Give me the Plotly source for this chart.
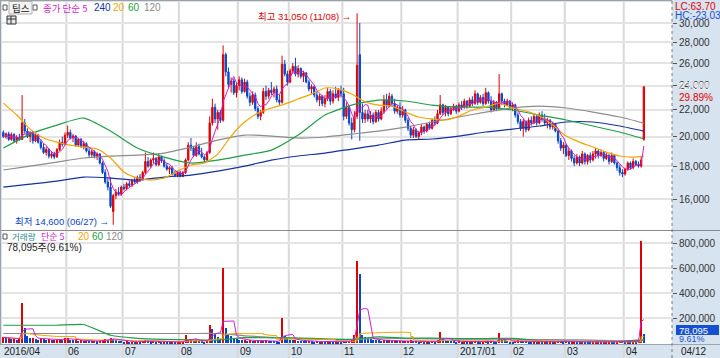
import math
import pandas as pd
import plotly.graph_objects as go

STOCK_NAME = "팁스"

OPEN = [20300,20000,20200,19800,20150,19700,19950,19800,21000,20400,
        20000,20250,19700,20100,19600,19250,18900,19100,18650,18800,
        18600,19100,19600,19450,20100,20300,19900,20050,19400,19800,
        19300,19500,19000,18750,18950,18650,18800,18200,17600,17000,
        16700,15300,16200,16400,16300,16700,16600,16900,16800,17100,
        17000,17300,17150,17600,18300,18000,18400,18500,18100,18600,
        18350,18000,17800,17900,17500,17400,17600,17350,17600,18400,
        19400,19200,18700,19300,18800,18600,18400,18900,21000,22200,
        21300,21800,21200,26800,25200,24100,24400,23400,24000,24500,
        23500,24300,23100,22600,23200,22100,21500,21800,23500,23100,
        23600,23400,23700,22800,22600,25900,25000,24300,25300,25700,
        25000,25500,24800,25100,24300,23700,23900,23200,22800,23100,
        22500,22900,23500,22700,23300,23000,23600,23300,21500,22200,
        21000,20500,21500,26800,21800,21300,21700,21300,21600,21100,
        21800,21300,21900,22800,22300,23100,22500,21900,22200,21600,
        22000,21200,20600,20100,20500,20000,20300,20700,20400,20900,
        20600,21200,21000,21700,22400,21800,22200,21700,22100,22300,
        21900,22400,22200,22700,22300,22800,22500,23300,22600,23000,
        22500,23400,22700,22000,22600,22100,23300,22700,22400,22700,
        22200,22400,21600,21100,20600,21100,20500,21200,21000,21500,
        21000,21600,21300,21000,21200,20700,20900,20400,19700,19200,
        19400,18700,19000,18500,18200,18600,18200,18800,18300,18700,
        18400,18800,19000,18700,18900,18500,18700,18300,18700,18200,
        17900,17600,17500,17800,18200,17900,18300,18100,18000,19800]

HIGH = [20450,20300,20350,20300,20250,20100,20200,23200,21300,20600,
        20400,20400,20200,20200,19800,19500,19300,19200,19000,18950,
        19200,19800,20000,20300,20800,20500,20200,20100,19900,19900,
        19700,19600,19200,19100,19050,18900,18850,18300,17800,17300,
        17300,16300,16600,16700,16800,16900,17000,17100,17200,17300,
        17400,17500,17700,18900,18600,18500,18900,18600,18800,18700,
        18500,18200,18000,18000,17700,17700,17700,17700,18500,19600,
        19900,19300,19600,19500,19200,18700,19000,21500,22900,22500,
        22000,22000,27700,27000,25600,24700,24600,24200,24800,24700,
        24600,24500,23400,23500,23400,22300,22000,23800,24000,23800,
        24300,23900,24000,23200,26700,26300,25300,25500,26000,26500,
        25800,25600,25300,25200,24500,24100,24000,23500,23300,23200,
        23200,23800,23700,23600,23900,23800,24000,23800,22600,22400,
        21400,21900,31050,30000,22500,22000,22000,21900,21800,22000,
        22000,22200,23200,23300,23400,23300,22900,22400,22600,22300,
        22100,21400,20800,20700,20600,20400,20900,20800,21000,21100,
        21300,21500,22000,23200,22500,22400,22300,22300,22500,22400,
        22600,22700,22900,22800,23000,23100,23600,23400,23200,23300,
        23800,23500,23100,22800,22700,25000,23400,22900,22900,22800,
        22600,22500,21800,21300,21300,21200,21400,21500,21700,21600,
        21800,21900,21700,21400,21300,21100,21000,20500,19900,19600,
        19500,19200,19100,18700,18800,18700,19000,18900,18800,18900,
        19000,19200,19100,19100,19000,18900,18800,18900,18800,18300,
        18100,17800,17900,18300,18300,18500,18400,18300,18600,23900]

LOW = [19900,19850,19700,19700,19600,19500,19700,19750,20200,19900,
       19600,19500,19600,19500,19100,18800,18700,18500,18500,18450,
       18550,19000,19300,19400,19900,19800,19600,19300,19300,19200,
       19100,18900,18600,18600,18500,18400,18100,17500,16900,16500,
       15500,14600,16000,16200,16200,16500,16500,16700,16700,16900,
       16900,17000,17100,17500,17900,17900,18200,18000,18000,18200,
       17900,17700,17500,17400,17300,17300,17300,17300,17500,18300,
       19000,18600,18600,18700,18500,18200,18300,18800,20800,21000,
       20500,21000,21100,24800,23800,23400,23200,23000,23600,23300,
       23400,22900,22300,22400,21900,21300,21200,21700,22800,22900,
       23200,23000,22600,22400,22500,24800,24000,24200,25000,24800,
       24700,24600,24300,24200,23500,23300,23000,22600,22300,22300,
       22200,22700,22400,22500,22900,22700,23000,21200,21300,20800,
       19800,20300,21300,19700,21000,21000,21100,21000,20900,21000,
       21100,21200,21700,22100,22200,22300,21700,21700,21400,21400,
       21000,20400,19900,19900,19900,19800,20100,20200,20300,20500,
       20500,20800,20900,21600,21600,21500,21500,21600,21900,21700,
       21800,22000,22100,22100,22200,22300,22400,22400,22500,22300,
       22400,22500,21800,21900,21900,22000,22400,22200,22300,22000,
       21900,21400,20900,20400,20000,20300,20400,20800,20900,20800,
       20900,21100,20800,20600,20500,20500,20300,19500,19000,18800,
       18600,18400,18300,18000,18100,18000,18100,18100,18100,18200,
       18300,18500,18500,18600,18300,18400,18100,18200,18100,17700,
       17400,17300,17400,17700,17800,17800,18000,17900,17900,19700]

CLOSE = [20000,20200,19800,20150,19700,19950,19800,21000,20400,20000,
         20250,19700,20100,19600,19250,18900,19100,18650,18800,18600,
         19100,19600,19450,20100,20300,19900,20050,19400,19800,19300,
         19500,19000,18750,18950,18650,18800,18200,17600,17000,16700,
         15600,16200,16400,16300,16700,16600,16900,16800,17100,17000,
         17300,17150,17600,18300,18000,18400,18500,18100,18600,18350,
         18000,17800,17900,17500,17400,17600,17350,17600,18400,19400,
         19200,18700,19300,18800,18600,18400,18900,21000,22200,21300,
         21800,21200,26800,25200,24100,24400,23400,24000,24500,23500,
         24300,23100,22600,23200,22100,21500,21800,23500,23100,23600,
         23400,23700,22800,22600,25900,25000,24300,25300,25700,25000,
         25500,24800,25100,24300,23700,23900,23200,22800,23100,22500,
         22900,23500,22700,23300,23000,23600,23300,21500,22200,21000,
         20500,21500,25800,21800,21300,21700,21300,21600,21100,21800,
         21300,21900,22800,22300,23100,22500,21900,22200,21600,22000,
         21200,20600,20100,20500,20000,20300,20700,20400,20900,20600,
         21200,21000,21700,22400,21800,22200,21700,22100,22300,21900,
         22400,22200,22700,22300,22800,22500,23300,22600,23000,22500,
         23400,22700,22000,22600,22100,23300,22700,22400,22700,22200,
         22400,21600,21100,20600,21100,20500,21200,21000,21500,21000,
         21600,21300,21000,21200,20700,20900,20400,19700,19200,19400,
         18700,19000,18500,18200,18600,18200,18800,18300,18700,18400,
         18800,19000,18700,18900,18500,18700,18300,18700,18200,17900,
         17600,17500,17800,18200,17900,18300,18100,18000,18400,23900]

VOLUME = [48000,40000,45000,32000,36000,30000,42000,320000,120000,56000,
          42000,45000,36000,30000,40000,34000,28000,32000,24000,26000,
          30000,38000,26000,40000,44000,30000,26000,28000,20000,24000,
          18000,22000,20000,16000,18000,15000,22000,28000,34000,30000,
          42000,38000,24000,18000,16000,14000,15000,12000,14000,10000,
          13000,11000,16000,30000,18000,15000,20000,14000,16000,12000,
          14000,11000,10000,12000,9000,10000,12000,14000,64000,30000,
          36000,22000,24000,18000,16000,14000,20000,144000,112000,80000,
          48000,36000,600000,120000,72000,56000,40000,34000,30000,26000,
          28000,22000,24000,20000,22000,18000,20000,16000,30000,20000,
          18000,16000,15000,14000,200000,56000,40000,30000,26000,28000,
          22000,20000,18000,16000,18000,15000,14000,16000,12000,14000,
          12000,15000,13000,12000,14000,12000,11000,20000,16000,18000,
          24000,70000,656000,552000,64000,48000,40000,32000,28000,26000,
          24000,22000,30000,24000,26000,20000,22000,18000,20000,16000,
          18000,22000,24000,18000,16000,14000,16000,12000,14000,12000,
          16000,14000,24000,88000,36000,26000,20000,18000,16000,14000,
          16000,12000,15000,12000,14000,11000,18000,14000,12000,13000,
          20000,15000,18000,14000,12000,80000,30000,24000,18000,14000,
          12000,20000,24000,22000,18000,16000,14000,12000,14000,10000,
          12000,11000,13000,10000,12000,9000,11000,18000,22000,14000,
          16000,12000,14000,15000,12000,10000,13000,11000,10000,9000,
          12000,14000,10000,11000,9000,10000,12000,11000,10000,14000,
          18000,16000,12000,14000,10000,12000,11000,30000,812600,78095]

MONTH_LABELS = ["2016/04", "06", "07", "08", "09", "10", "11", "12",
                "2017/01", "02", "03", "04"]
MONTH_START = [0, 24, 45, 66, 88, 107, 127, 149, 170, 190, 210, 232]
LAST_DATE = "04/12"
HIGH_DATE = "11/08"
LOW_DATE = "06/27"

PRICE_TICKS = [16000, 18000, 20000, 22000, 24000, 26000, 28000, 30000]
VOLUME_TICKS = [200000, 400000, 600000, 800000]

# moving averages (the window reaches back before the shown period)
MA20_IDX = list(range(0, 240, 5)) + [239]
MA20 = [22540, 21600, 20540, 19900, 19610, 19400, 19270, 19130, 18530, 17620,
        17250, 17120, 17250, 17680, 18070, 18200, 18790, 20040, 21070, 21750,
        22150, 22460, 22870, 23280, 23790, 23700, 23280, 22630, 22380, 22300,
        21830, 21450, 21300, 21220, 21520, 21990, 22220, 22540, 22150, 21910,
        21520, 20840, 20040, 19610, 19270, 18920, 18660, 18590, 18660]
MA_IDX = list(range(0, 240, 10)) + [239]
MA60 = [19200, 20180, 20840, 21370, 20400, 19200, 18590, 18200, 18390, 18720,
        19060, 20110, 21600, 22380, 22790, 22710, 22380, 22220, 22220, 21990,
        21600, 21220, 20770, 20330, 19830]
MA120 = [17750, 18000, 18260, 18530, 18660, 18720, 18860, 19270, 19750, 20110,
         20040, 19900, 19970, 20180, 20400, 20690, 21070, 21450, 21830, 22150,
         22300, 22150, 21830, 21450, 20990]
MA240 = [16700, 16880, 17060, 17310, 17250, 17120, 17310, 17430, 17680, 18000,
         18390, 18660, 18860, 19130, 19400, 19750, 19830, 20040, 20330, 20540,
         20770, 21070, 21070, 20770, 20400]
VMA60 = [144000, 144000, 144000, 150000, 64000, 40000, 32000, 28000, 26000, 45000,
         44000, 42000, 35000, 32000, 52000, 42000, 42000, 38000, 38000, 40000,
         20000, 17000, 15000, 15000, 30000]
VMA120 = [78000, 78000, 78000, 78000, 78000, 78000, 78000, 78000, 78000, 60000,
          48000, 40000, 32000, 30000, 40000, 38000, 36000, 34000, 34000, 34000,
          30000, 28000, 26000, 20000, 26000]

# ---------------- colours / fonts ----------------
RED = "#e00000"
BLUE = "#0a46c8"
MAGENTA = "#d21ec8"
ORANGE = "#f0a500"
GREEN = "#1e9e46"
GRAY = "#8c8c8c"
NAVY = "#1432a0"
TEAL = "#1e8c8c"
PANEL = "#d7e3ef"
GRID = "#e4e4e4"
NUMF = "Liberation Sans Narrow, Liberation Sans, Noto Sans CJK KR, sans-serif"
KRF = "Noto Sans CJK KR, sans-serif"

# ---------------- geometry (pixels) ----------------
W, H = 720, 358
PL, PR, PT, PB = 2, 672, 2, 344
PW, PH = PR - PL, PB - PT


def px(x):
    return (x - PL) / PW


def py(y):
    return (PB - y) / PH


n = len(CLOSE)
xs = list(range(n))
ma5 = pd.Series(CLOSE).rolling(5, min_periods=1).mean()
vma5 = pd.Series(VOLUME).rolling(5, min_periods=1).mean()
vma20 = pd.Series(VOLUME).rolling(20, min_periods=1).mean()
vcol = [RED] + [RED if VOLUME[i] >= VOLUME[i - 1] else BLUE for i in range(1, n)]

hi_i = max(range(n), key=lambda i: HIGH[i])
lo_i = min(range(n), key=lambda i: LOW[i])
cur, prev = CLOSE[-1], CLOSE[-2]
chg = (cur / prev - 1) * 100
lc = (cur / LOW[lo_i] - 1) * 100
hc = (cur / HIGH[hi_i] - 1) * 100
vratio = VOLUME[-1] / VOLUME[-2] * 100

PRICE_BOTTOM, PRICE_TOP = 14380, 32340
price_dom = [py(229), 1]
vol_dom = [0, py(232)]

fig = go.Figure()
fig.add_trace(go.Candlestick(
    x=xs, open=OPEN, high=HIGH, low=LOW, close=CLOSE, xaxis="x", yaxis="y",
    increasing=dict(line=dict(color=RED, width=1), fillcolor=RED),
    decreasing=dict(line=dict(color=BLUE, width=1), fillcolor=BLUE),
    whiskerwidth=0, showlegend=False, hoverinfo="skip"))
for xx, yy, c in [(MA_IDX, MA240, NAVY), (MA_IDX, MA120, GRAY),
                  (MA_IDX, MA60, GREEN), (MA20_IDX, MA20, ORANGE)]:
    fig.add_trace(go.Scatter(x=xx, y=yy, mode="lines", xaxis="x", yaxis="y",
                             line=dict(color=c, width=1.2, shape="spline", smoothing=0.6),
                             showlegend=False, hoverinfo="skip"))
fig.add_trace(go.Scatter(x=xs, y=ma5, mode="lines", xaxis="x", yaxis="y",
                         line=dict(color=MAGENTA, width=1), showlegend=False, hoverinfo="skip"))

fig.add_trace(go.Bar(x=xs, y=VOLUME, marker=dict(color=vcol, line=dict(width=0)),
                     width=0.75, xaxis="x2", yaxis="y2", showlegend=False, hoverinfo="skip"))
for xx, yy, c in [(MA_IDX, VMA120, GRAY), (MA_IDX, VMA60, GREEN)]:
    fig.add_trace(go.Scatter(x=xx, y=yy, mode="lines", xaxis="x2", yaxis="y2",
                             line=dict(color=c, width=1.2, shape="spline", smoothing=0.4),
                             showlegend=False, hoverinfo="skip"))
fig.add_trace(go.Scatter(x=xs, y=vma20, mode="lines", xaxis="x2", yaxis="y2",
                         line=dict(color=ORANGE, width=1, shape="hv"), showlegend=False, hoverinfo="skip"))
fig.add_trace(go.Scatter(x=xs, y=vma5, mode="lines", xaxis="x2", yaxis="y2",
                         line=dict(color=MAGENTA, width=1), showlegend=False, hoverinfo="skip"))

xr = [-0.5, 249.5]
fig.update_layout(
    width=W, height=H, margin=dict(l=PL, r=W - PR, t=PT, b=H - PB),
    paper_bgcolor=PANEL, plot_bgcolor="rgba(0,0,0,0)", bargap=0,
    xaxis=dict(domain=[0, 1], range=xr, anchor="y", showticklabels=False, showgrid=False,
               zeroline=False, rangeslider=dict(visible=False), fixedrange=True),
    xaxis2=dict(domain=[0, 1], range=xr, anchor="y2", matches="x", showticklabels=False,
                showgrid=False, zeroline=False, fixedrange=True),
    yaxis=dict(domain=price_dom, type="log", side="right",
               range=[math.log10(PRICE_BOTTOM), math.log10(PRICE_TOP)],
               tickvals=PRICE_TICKS, ticktext=[f"{v:,}" for v in PRICE_TICKS],
               ticks="outside", ticklen=4, tickcolor="#555", showgrid=True,
               gridcolor=GRID, gridwidth=2, zeroline=False,
               tickfont=dict(family=NUMF, size=10, color="#333")),
    yaxis2=dict(domain=vol_dom, side="right", range=[-5600, 887800],
                tickvals=VOLUME_TICKS, ticktext=[f"{v:,}" for v in VOLUME_TICKS],
                ticks="outside", ticklen=4, tickcolor="#555", showgrid=True,
                gridcolor=GRID, gridwidth=2, zeroline=False,
                tickfont=dict(family=NUMF, size=10, color="#333")),
)

shapes = []
# white panel backgrounds
shapes.append(dict(type="rect", xref="paper", yref="paper", x0=0, x1=1, y0=price_dom[0], y1=1,
                   fillcolor="white", line=dict(width=0), layer="below"))
shapes.append(dict(type="rect", xref="paper", yref="paper", x0=0, x1=1, y0=0, y1=vol_dom[1],
                   fillcolor="white", line=dict(width=0), layer="below"))
shapes.append(dict(type="rect", xref="paper", yref="paper", x0=0, x1=1, y0=vol_dom[1], y1=price_dom[0],
                   fillcolor="white", line=dict(width=0), layer="below"))
# month grid lines (through the date band)
for s in MONTH_START[1:]:
    shapes.append(dict(type="line", xref="x", yref="paper", x0=s - 0.5, x1=s - 0.5,
                       y0=py(358), y1=1, line=dict(color="#d9d9d9", width=2), layer="below"))
# separators
shapes.append(dict(type="line", xref="paper", yref="paper", x0=px(0), x1=px(720),
                   y0=py(230.5), y1=py(230.5), line=dict(color="#8a8a8a", width=1)))
shapes.append(dict(type="line", xref="paper", yref="paper", x0=px(0), x1=px(720),
                   y0=py(344.5), y1=py(344.5), line=dict(color="#9aa6b4", width=1)))
shapes.append(dict(type="line", xref="paper", yref="paper", x0=1, x1=1,
                   y0=py(358), y1=py(0), line=dict(color="#7a7a7a", width=1, dash="dot")))
shapes.append(dict(type="line", xref="paper", yref="paper", x0=px(0.5), x1=px(0.5),
                   y0=py(344), y1=py(0), line=dict(color="#a0a0a0", width=1)))
shapes.append(dict(type="line", xref="paper", yref="paper", x0=px(0), x1=1,
                   y0=py(0.5), y1=py(0.5), line=dict(color="#a0a0a0", width=1)))
# price range bar (previous close -> current, previous close -> bottom)
shapes.append(dict(type="rect", xref="paper", yref="y", x0=px(669), x1=px(671.5),
                   y0=math.log10(prev), y1=math.log10(cur), fillcolor=RED, line=dict(width=0)))
shapes.append(dict(type="rect", xref="paper", yref="y", x0=px(669), x1=px(671.5),
                   y0=math.log10(PRICE_BOTTOM), y1=math.log10(prev), fillcolor=BLUE, line=dict(width=0)))
# current price box / current volume box
shapes.append(dict(type="rect", xref="paper", yref="y", x0=px(676), x1=px(719),
                   ysizemode="pixel", yanchor=math.log10(cur), y0=-5.5, y1=5.5,
                   fillcolor=RED, line=dict(width=0), layer="above"))
shapes.append(dict(type="rect", xref="paper", yref="y2", x0=px(676), x1=px(719),
                   ysizemode="pixel", yanchor=VOLUME[-1], y0=-1.5, y1=8.5,
                   fillcolor="#1450d0", line=dict(width=0), layer="above"))
# legend boxes
for (x0, y0, x1, y1) in [(3, 5, 7, 10), (33, 5, 37, 10), (3, 234, 7, 239)]:
    shapes.append(dict(type="rect", xref="paper", yref="paper", x0=px(x0), x1=px(x1),
                       y0=py(y1), y1=py(y0), fillcolor="white", line=dict(color="#555", width=1)))
shapes.append(dict(type="rect", xref="paper", yref="paper", x0=px(9), x1=px(32),
                   y0=py(14), y1=py(1.5), fillcolor="#f2f2f2", line=dict(color="#b0b0b0", width=1)))
shapes.append(dict(type="rect", xref="paper", yref="paper", x0=px(7), x1=px(16),
                   y0=py(24), y1=py(16), fillcolor="#e6e6e6", line=dict(color="#333", width=1)))
shapes.append(dict(type="line", xref="paper", yref="paper", x0=px(7), x1=px(16),
                   y0=py(19), y1=py(19), line=dict(color="#333", width=1)))
shapes.append(dict(type="line", xref="paper", yref="paper", x0=px(11), x1=px(11),
                   y0=py(24), y1=py(16), line=dict(color="#333", width=1)))
fig.update_layout(shapes=shapes)

ann = []


def txt(x, y, text, color, size=10, family=KRF, anchor="left", **kw):
    d = dict(xref="paper", yref="paper", x=px(x), y=py(y), text=text, showarrow=False,
             xanchor=anchor, yanchor="middle", font=dict(family=family, size=size, color=color))
    d.update(kw)
    ann.append(d)


# top legend
txt(20.5, 7.5, STOCK_NAME, "#111", size=9.5, anchor="center")
txt(41, 7.5, "종가 단순 5", MAGENTA, size=9.5)
txt(92, 7.5, "240", NAVY, family=NUMF)
txt(111, 7.5, "20", ORANGE, family=NUMF)
txt(126, 7.5, "60", GREEN, family=NUMF)
txt(142, 7.5, "120", GRAY, family=NUMF)
# volume legend
txt(10, 236.5, "거래량", TEAL, size=8.5)
txt(39, 236.5, "단순 5", MAGENTA, size=9)
txt(76, 236.5, "20", ORANGE, family=NUMF)
txt(90, 236.5, "60", GREEN, family=NUMF)
txt(104, 236.5, "120", GRAY, family=NUMF)
txt(5, 247.5, f"{VOLUME[-1]:,}주({vratio:.2f}%)", "#222", family=NUMF)
# right panel texts
txt(673, 6, f"LC:{lc:.2f}", RED, family=NUMF)
txt(673, 15.5, f"HC:{hc:.2f}", "#1450d0", family=NUMF)
ann.append(dict(xref="paper", yref="y", x=px(677), y=math.log10(cur), text=f"{cur:,}",
                showarrow=False, xanchor="left", yanchor="middle",
                font=dict(family=NUMF, size=10, color="white")))
ann.append(dict(xref="paper", yref="y", x=px(677), y=math.log10(cur), yshift=-10.5,
                text=f"{chg:.2f}%", showarrow=False, xanchor="left", yanchor="middle",
                font=dict(family=NUMF, size=10, color=RED)))
ann.append(dict(xref="paper", yref="y2", x=px(677), y=VOLUME[-1], yshift=3.5, text=f"{VOLUME[-1]:,}",
                showarrow=False, xanchor="left", yanchor="middle",
                font=dict(family=NUMF, size=9.5, color="white")))
ann.append(dict(xref="paper", yref="y2", x=px(677), y=VOLUME[-1], yshift=-5,
                text=f"{vratio:.2f}%", showarrow=False, xanchor="left", yanchor="middle",
                font=dict(family=NUMF, size=9, color="#1450d0")))
txt(679, 351.5, LAST_DATE, "#222", family=NUMF)
# high / low markers
ann.append(dict(xref="x", yref="y", x=hi_i - 1.6, y=math.log10(HIGH[hi_i]), yshift=-3,
                text=f"최고 {HIGH[hi_i]:,} ({HIGH_DATE}) →", showarrow=False,
                xanchor="right", yanchor="middle", font=dict(family=NUMF, size=9.5, color=RED)))
ann.append(dict(xref="x", yref="y", x=lo_i - 0.9, y=math.log10(LOW[lo_i]), yshift=3,
                text=f"최저 {LOW[lo_i]:,} ({LOW_DATE}) →", showarrow=False,
                xanchor="right", yanchor="middle", font=dict(family=NUMF, size=9.5, color=BLUE)))
# month labels in the date band
for s, lab in zip(MONTH_START, MONTH_LABELS):
    ann.append(dict(xref="x", yref="paper", x=s - 0.5, y=py(351.5), text=lab, showarrow=False,
                    xanchor="left", yanchor="middle", xshift=0,
                    font=dict(family=NUMF, size=10, color="#222")))
fig.update_layout(annotations=ann)

fig.write_html("out.html", config={"displayModeBar": False},
               post_script="document.body.style.margin='0';document.body.style.padding='0';")
